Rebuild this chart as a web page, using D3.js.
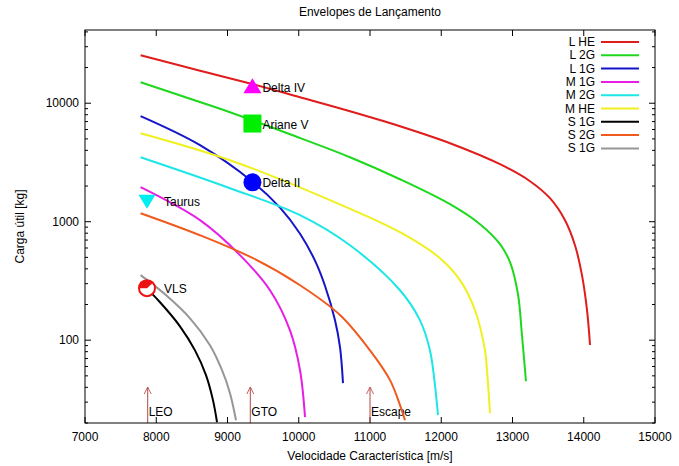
<!DOCTYPE html>
<html><head><meta charset="utf-8">
<script src="https://cdn.jsdelivr.net/npm/d3@7"></script>
<style>body{margin:0;background:#fff}text{font-family:"Liberation Sans",Arial,sans-serif;font-size:12px;fill:#000}</style>
</head><body>
<svg id="c" width="679" height="466"></svg>
<script>
const seriesNames = ["L HE","L 2G","L 1G","M 1G","M 2G","M HE","S 1G","S 2G","S 1G"];
const seriesColors = ["#e01c1c","#1ed81e","#1414c8","#e61ee6","#1ee6e6","#f0f01e","#000000","#f05a1e","#969696"];
const L_HE = [[7780,25400],[8614,18810],[9358,14460],[10018,11230],[10719,8560],[11421,6395],[12123,4597],[12825,3057],[13246,2197],[13526,1579],[13737,1030],[13877,633],[13975,354],[14046,179],[14088,91]];
const L_2G = [[7780,15040],[8474,10910],[9035,8395],[9877,5473],[10719,3503],[11421,2283],[12123,1405],[12544,953],[12825,646],[12965,455],[13077,244],[13133,110],[13189,45]];
const L_1G = [[7780,7770],[8614,4421],[9358,2155],[9737,1313],[10018,792],[10228,469],[10368,288],[10509,147.5],[10579,87.3],[10621,43.4]];
const M_1G = [[7780,1955],[8614,1030],[9175,522],[9596,264],[9877,121],[10018,55.8],[10088,22.4]];
const M_2G = [[7780,3500],[9035,1918],[10018,1135],[10719,632],[11421,264],[11702,147],[11842,82],[11912,41.7],[11954,23.3]];
const M_HE = [[7780,5580],[9035,3304],[10439,1520],[11421,815],[11982,492],[12263,321],[12474,179],[12614,82],[12642,55.8],[12684,24.2]];
const S_1G = [[7780,309],[8053,209],[8333,131],[8544,82],[8698,50.7],[8796,31.2],[8853,20.3]];
const S_2G = [[7780,1180],[8614,769],[9358,492],[10018,291],[10579,163],[11000,82],[11281,46],[11421,28.3],[11491,21.1]];
const S_1G_b = [[7780,354],[8123,244],[8474,153],[8754,90.7],[8923,55.8],[9035,35.7],[9119,21.1]];
const seriesData = [L_HE,L_2G,L_1G,M_1G,M_2G,M_HE,S_1G,S_2G,S_1G_b];

const vehicles = ["Delta IV","Ariane V","Delta II","Taurus","VLS"];
const vehicleX = [9350,9350,9350,7870,7870];
const vehicleY = [13650,6740,2150,1500,275];
const vehicleSym = ["triangle","square","circle","triangleDown","circleOpen"];
const vehicleColor = ["#ff00ff","#00ee00","#0000ff","#00eeee","#ee1111"];

const orbits = ["LEO","GTO","Escape"];
const orbitX = [7880,9320,11000];

const xTicks = [7000,8000,9000,10000,11000,12000,13000,14000,15000];
const yTicks = [100,1000,10000];

const L=85,R=655,T=30,B=423;
const x = d3.scaleLinear().domain([7000,15000]).range([L,R]);
const y = d3.scaleLog().domain([20,41500]).range([B,T]);
const svg = d3.select("#c");

// ticks
const g = svg.append("g").attr("stroke","#000").attr("stroke-width",1);
xTicks.forEach(t=>{
  g.append("line").attr("x1",x(t)).attr("x2",x(t)).attr("y1",B).attr("y2",B-6);
  g.append("line").attr("x1",x(t)).attr("x2",x(t)).attr("y1",T).attr("y2",T+6);
  svg.append("text").attr("x",x(t)).attr("y",B+18).attr("text-anchor","middle").text(t);
});
const minor=[];
[10,100,1000,10000].forEach(d=>{for(let k=2;k<=9;k++){const v=d*k; if(v>=20&&v<=41500) minor.push(v);}});
minor.forEach(v=>{
  g.append("line").attr("x1",L).attr("x2",L+3).attr("y1",y(v)).attr("y2",y(v));
  g.append("line").attr("x1",R).attr("x2",R-3).attr("y1",y(v)).attr("y2",y(v));
});
yTicks.forEach(t=>{
  g.append("line").attr("x1",L).attr("x2",L+6).attr("y1",y(t)).attr("y2",y(t));
  g.append("line").attr("x1",R).attr("x2",R-6).attr("y1",y(t)).attr("y2",y(t));
  svg.append("text").attr("x",L-6).attr("y",y(t)+4).attr("text-anchor","end").text(t);
});

// arrows
svg.append("defs").append("marker").attr("id","ah").attr("viewBox","0 0 10 10").attr("refX",10).attr("refY",5)
  .attr("markerWidth",7).attr("markerHeight",9).attr("orient","auto").attr("markerUnits","userSpaceOnUse")
  .append("path").attr("d","M0,0L10,5L0,10").attr("fill","none").attr("stroke","#c05050").attr("stroke-width",1.3);
orbits.forEach((o,i)=>{
  svg.append("line").attr("x1",x(orbitX[i])).attr("x2",x(orbitX[i])).attr("y1",B).attr("y2",387)
    .attr("stroke","#b04848").attr("stroke-width",1).attr("marker-end","url(#ah)");
  svg.append("text").attr("x",x(orbitX[i])+1).attr("y",416).text(o);
});

// curves
const line = d3.line().x(d=>x(d[0])).y(d=>y(d[1])).curve(d3.curveCatmullRom.alpha(0.5));
seriesData.forEach((s,i)=>{
  svg.append("path").attr("d",line(s)).attr("fill","none").attr("stroke",seriesColors[i]).attr("stroke-width",2);
});

// vehicles
vehicles.forEach((v,i)=>{
  const cx=x(vehicleX[i]), cy=y(vehicleY[i]), c=vehicleColor[i], s=vehicleSym[i];
  if(s==="triangle") svg.append("path").attr("d",`M${cx},${cy-9}L${cx+9},${cy+6}L${cx-9},${cy+6}Z`).attr("fill",c);
  else if(s==="triangleDown") svg.append("path").attr("d",`M${cx},${cy+8}L${cx+8.5},${cy-6}L${cx-8.5},${cy-6}Z`).attr("fill",c);
  else if(s==="square") svg.append("rect").attr("x",cx-9).attr("y",cy-9).attr("width",18).attr("height",18).attr("fill",c);
  else if(s==="circle") svg.append("circle").attr("cx",cx).attr("cy",cy).attr("r",9).attr("fill",c);
  else {
    svg.append("circle").attr("cx",cx).attr("cy",cy).attr("r",8).attr("fill","#fff").attr("stroke",c).attr("stroke-width",2);
    svg.append("path").attr("d",`M${cx},${cy}L${cx-8},${cy}A8,8 0 0 1 ${cx+6},${cy-5.5}Z`).attr("fill",c);
  }
  svg.append("text").attr("x",cx+ (s==="triangleDown"||s==="circleOpen"?17:10)).attr("y",cy+5).text(v);
});

// frame
svg.append("rect").attr("x",L).attr("y",T).attr("width",R-L).attr("height",B-T).attr("fill","none").attr("stroke","#000").attr("stroke-width",1);

// legend
seriesNames.forEach((n,i)=>{
  const ly=42+i*13.3;
  svg.append("text").attr("x",595).attr("y",ly+4).attr("text-anchor","end").text(n);
  svg.append("line").attr("x1",601).attr("x2",639).attr("y1",ly).attr("y2",ly).attr("stroke",seriesColors[i]).attr("stroke-width",2);
});

svg.append("text").attr("x",(L+R)/2).attr("y",16).attr("text-anchor","middle").text("Envelopes de Lançamento");
svg.append("text").attr("x",(L+R)/2).attr("y",460).attr("text-anchor","middle").text("Velocidade Característica [m/s]");
svg.append("text").attr("transform",`translate(24,${(T+B)/2}) rotate(-90)`).attr("text-anchor","middle").text("Carga útil [kg]");
</script>
</body></html>
